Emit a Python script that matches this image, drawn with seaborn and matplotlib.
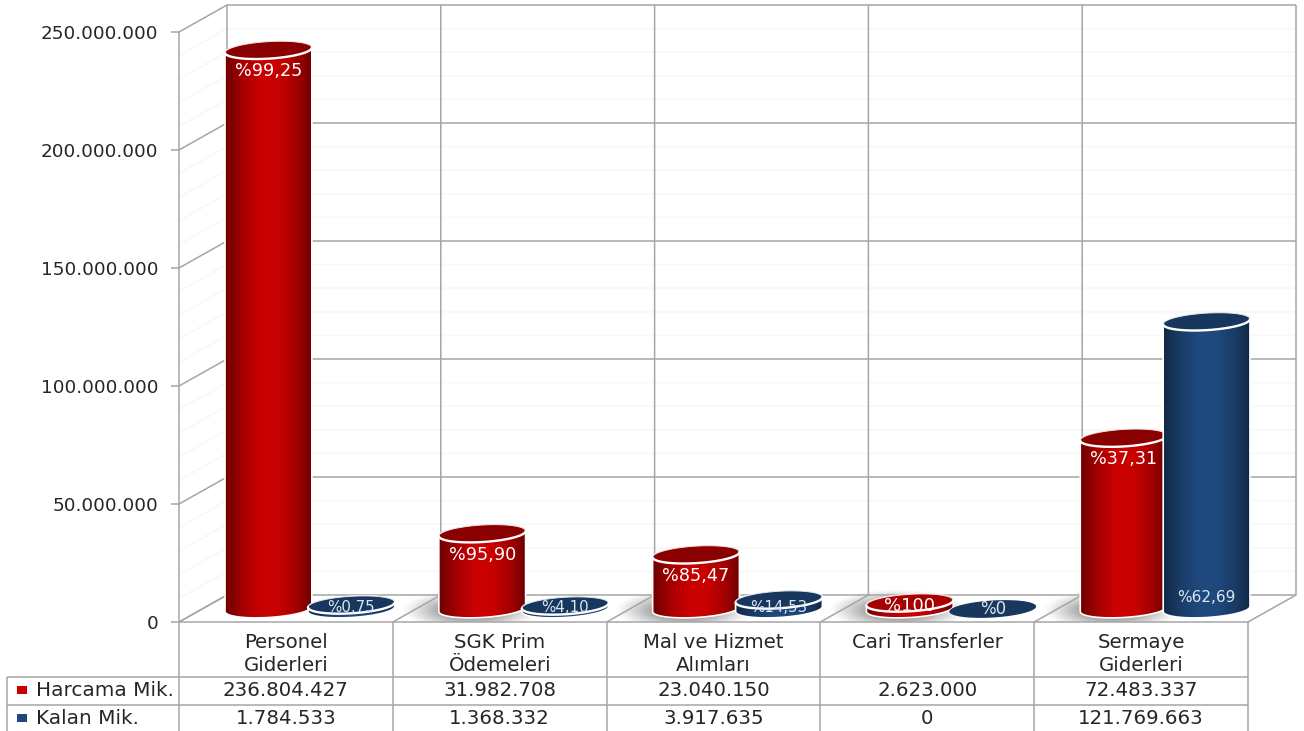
import numpy as np
import pandas as pd
import matplotlib
matplotlib.use("Agg")
import matplotlib.pyplot as plt
import seaborn as sns
from matplotlib.colors import LinearSegmentedColormap, to_rgb
from matplotlib.lines import Line2D
from matplotlib.patches import Polygon, Rectangle
from matplotlib.transforms import IdentityTransform

CATEGORIES = ["Personel\nGiderleri", "SGK Prim\nÖdemeleri", "Mal ve Hizmet\nAlımları",
              "Cari Transferler", "Sermaye\nGiderleri"]
SERIES = ["Harcama Mik.", "Kalan Mik."]
HARCAMA = [236804427, 31982708, 23040150, 2623000, 72483337]
KALAN = [1784533, 1368332, 3917635, 0, 121769663]
HARCAMA_PCT = ["%99,25", "%95,90", "%85,47", "%100", "%37,31"]
KALAN_PCT = ["%0,75", "%4,10", "%14,53", "%0", "%62,69"]
Y_TICKS = [0, 50000000, 100000000, 150000000, 200000000, 250000000]

W, H = 1304, 731
GRID = "#a6a6a6"
MINOR = "#f8f8f8"
TXT = "#262626"
DX, DY = 48, 27          # depth of the 3D box, in pixels
BX, BY = 24, 13          # cylinders stand half way in the depth
ELL_B = 8.5
TILT = np.radians(3.5)
OVERHANG = 2             # cylinders are a little wider than their dodge slot

sns.set_theme(style="white")
plt.rcParams["font.family"] = ["DejaVu Sans"]
fig = plt.figure(figsize=(W / 100, H / 100), dpi=100, facecolor="white")

L, R, T, B = 179, 1248, 32, 622
pos = [L / W, (H - B) / H, (R - L) / W, (B - T) / H]
ax = fig.add_axes(pos, facecolor="none")
bar_ax = fig.add_axes([pos[0] + BX / W, pos[1] + BY / H, pos[2], pos[3]], facecolor="none")

df = pd.DataFrame({
    "Kalem": CATEGORIES * 2,
    "Tutar": HARCAMA + KALAN,
    "Tur": [SERIES[0]] * 5 + [SERIES[1]] * 5,
})
RED, BLUE = "#c80000", "#1f497d"
sns.barplot(data=df, x="Kalem", y="Tutar", hue="Tur", order=CATEGORIES, hue_order=SERIES,
            palette=[RED, BLUE], width=0.776, gap=0, saturation=1, errorbar=None,
            legend=False, ax=bar_ax)

for a in (ax, bar_ax):
    a.set_xlim(-0.5, 4.5)
    a.set_ylim(0, 250000000)
    a.set_autoscale_on(False)
bar_ax.axis("off")


def line(x, y, color=GRID, lw=1.1, z=1):
    ax.add_line(Line2D(x, y, transform=IdentityTransform(), color=color, lw=lw,
                       clip_on=False, zorder=z, solid_capstyle="butt"))


# --- box: axes, walls, floor
for s in ("top", "right"):
    ax.spines[s].set_visible(False)
for s in ("left", "bottom"):
    ax.spines[s].set_color(GRID)
    ax.spines[s].set_linewidth(1.1)
ax.set_yticks(Y_TICKS, [f"{v:,}".replace(",", ".") for v in Y_TICKS], fontsize=13.2, color=TXT)
ax.set_xticks(range(5), CATEGORIES, fontsize=14.2, color=TXT, linespacing=1.25)
ax.tick_params(axis="y", length=6, width=1.1, color=GRID, pad=9, left=True)
ax.tick_params(axis="x", length=0, pad=8)

for minor in range(0, 250000001, 10000000):
    if minor % 50000000:
        x0, y0 = ax.transData.transform((-0.5, minor))
        x1, _ = ax.transData.transform((4.5, minor))
        line([x0, x0 + DX, x1 + DX], [y0, y0 + DY, y0 + DY], color=MINOR, lw=1.4, z=0.5)
for v in Y_TICKS:
    x0, y0 = ax.transData.transform((-0.5, v))
    x1, _ = ax.transData.transform((4.5, v))
    line([x0, x0 + DX, x1 + DX], [y0, y0 + DY, y0 + DY])
for i in range(6):
    x0, y0 = ax.transData.transform((i - 0.5, 0))
    _, yt = ax.transData.transform((i - 0.5, 250000000))
    line([x0, x0 + DX, x0 + DX], [y0, y0 + DY, yt + DY])

# --- table under the plot
x_left = 7
x_end, y0 = ax.transData.transform((4.5, 0))
for i in range(6):
    x, _ = ax.transData.transform((i - 0.5, 0))
    line([x, x], [y0, 0], z=3)
for off in (54.5, 82.5):
    line([x_left, x_end], [y0 - off, y0 - off], z=3)
line([x_left, x_left], [y0 - 54.5, 0], z=3)
for row, (name, vals, col) in enumerate(zip(SERIES, (HARCAMA, KALAN), (RED, BLUE))):
    yc = y0 - 68 - 28 * row
    ax.add_patch(Rectangle((17, yc - 4), 10, 8, transform=IdentityTransform(),
                           facecolor=col, edgecolor="none", clip_on=False))
    ax.annotate(name, xy=(36, yc), xycoords=IdentityTransform(), ha="left", va="center",
                fontsize=14.4, color=TXT, annotation_clip=False)
    for i, v in enumerate(vals):
        xc, _ = ax.transData.transform((i, 0))
        ax.annotate(f"{v:,}".replace(",", "."), xy=(xc, yc), xycoords=IdentityTransform(),
                    ha="center", va="center", fontsize=14.2, color=TXT, annotation_clip=False)


# --- cylinders, built on the bars seaborn drew
def shade(base, dark=0.55):
    c = np.array(to_rgb(base))
    return LinearSegmentedColormap.from_list("c", [
        (0.0, c * dark), (0.2, c * 0.82), (0.4, c), (0.62, c), (0.84, c * 0.8), (1.0, c * dark)])


def arc(cx, cy, a, t):
    ex, ey = a * np.cos(t), ELL_B * np.sin(t)
    return np.c_[cx + ex * np.cos(TILT) - ey * np.sin(TILT),
                 cy + ex * np.sin(TILT) + ey * np.cos(TILT)]


def shadow(cx, cy, a):
    n = 80
    yy, xx = np.mgrid[-1:1:n * 1j, -1:1:n * 1j]
    alpha = np.clip(1 - np.hypot(xx, yy), 0, 1) ** 1.2 * 1.25
    rgba = np.zeros((n, n, 4))
    rgba[..., :3] = 0.42
    rgba[..., 3] = np.clip(alpha, 0, 1)
    x0, y0_ = ax.transData.inverted().transform((cx - a * 1.6 - 12, cy - 22))
    x1, y1_ = ax.transData.inverted().transform((cx + a * 1.6 - 12, cy + 20))
    ax.imshow(rgba, extent=(x0, x1, y0_, y1_), aspect="auto", zorder=0.8,
              interpolation="bilinear")
    ax.set_xlim(-0.5, 4.5)
    ax.set_ylim(0, 250000000)


z = 2
for s, (cont, base, top_col, labels) in enumerate(zip(
        bar_ax.containers, (RED, BLUE), ("#8a0000", "#17375e"), (HARCAMA_PCT, KALAN_PCT))):
    cmap = shade(base)
    grad = np.linspace(0, 1, 256)[None, :]
    for i, p in enumerate(cont.patches):
        x0 = p.get_x()
        x1 = x0 + p.get_width()
        val = p.get_height()
        (dx0, dbase), (dx1, dtop) = bar_ax.transData.transform([(x0, 0), (x1, val)])
        cx, a = (dx0 + dx1) / 2, (dx1 - dx0) / 2 + OVERHANG
        if s == 0 and i > 0:
            shadow(cx, dbase, a)
        if val > 0:
            bottom = arc(cx, dbase, a, np.linspace(np.pi, 2 * np.pi, 50))
            top = arc(cx, dtop, a, np.linspace(0, np.pi, 50))
            body = Polygon(np.r_[bottom, top], closed=True, transform=IdentityTransform(),
                           facecolor="none", edgecolor="white", lw=1.2, clip_on=False, zorder=z + 2)
            bar_ax.add_patch(body)
            p.set_zorder(z)
            p.set_clip_path(body)
            p.set_clip_box(fig.bbox)
            (ex0, ylo), (ex1, yhi) = bar_ax.transData.inverted().transform(
                [(cx - a, dbase - 14), (cx + a, dtop + 14)])
            im = bar_ax.imshow(grad, cmap=cmap, extent=(ex0, ex1, ylo, yhi), aspect="auto",
                               zorder=z + 1, interpolation="bilinear")
            im.set_clip_box(fig.bbox)
            im.set_clip_path(body)
            bar_ax.set_xlim(-0.5, 4.5)
            bar_ax.set_ylim(0, 250000000)
        short = dtop - dbase < 12
        face = "#a80000" if (short and s == 0) else top_col
        ellipse = arc(cx, dtop, a, np.linspace(0, 2 * np.pi, 100))
        bar_ax.add_patch(Polygon(ellipse, closed=True, transform=IdentityTransform(),
                                 facecolor=face, edgecolor="#f4dede" if (val > 0 and s == 0) else
                                 ("#dfe6ee" if val > 0 else "none"),
                                 lw=0.7, clip_on=False, zorder=z + 3))
        if val > 0:
            front = arc(cx, dtop, a, np.linspace(np.pi, 2 * np.pi, 50))
            bar_ax.add_line(Line2D(front[:, 0], front[:, 1], transform=IdentityTransform(),
                                   color="white", lw=1.7, clip_on=False, zorder=z + 3.5))
        if s == 0:
            ty, size = (dtop - 21, 12.7) if not short else (dtop - 3, 13)
        elif short or val < 10000000:
            ty, size = (dbase + 0, 12) if val == 0 else (dbase + 2, 10.8)
        else:
            ty, size = (dbase + 11, 11)
        bar_ax.annotate(labels[i], xy=(cx, ty), xycoords=IdentityTransform(), ha="center",
                        va="center", fontsize=size, color="white" if s == 0 else "#dce6f2",
                        annotation_clip=False, zorder=z + 4)
        z += 5

fig.savefig("out.png", dpi=100, facecolor="white")
